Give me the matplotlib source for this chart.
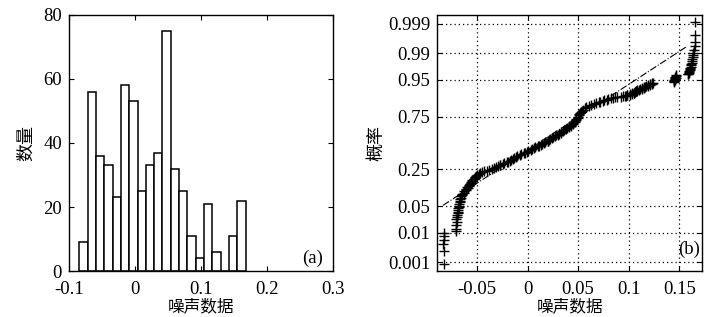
import matplotlib
matplotlib.use("Agg")
import matplotlib.pyplot as plt
import numpy as np
from statistics import NormalDist

plt.rcParams['font.family'] = ['Liberation Serif', 'DejaVu Serif']
plt.rcParams['axes.unicode_minus'] = False

# ---------------- (a) histogram ----------------
bin_centers = [-0.0781, -0.0655, -0.0529, -0.0403, -0.0277, -0.0151, -0.0025,
               0.0101, 0.0227, 0.0353, 0.0479, 0.0605, 0.0731, 0.0857,
               0.0983, 0.1109, 0.1235, 0.1361, 0.1487, 0.1613]
bin_counts = [9, 56, 36, 33, 23, 58, 53, 25, 33, 37, 75, 32, 25, 11, 4, 21, 6, 0, 11, 22]
bin_width = 0.0126
hist_xticks = [-0.1, 0, 0.1, 0.2, 0.3]
hist_xticklabels = ['-0.1', '0', '0.1', '0.2', '0.3']
hist_yticks = [0, 20, 40, 60, 80]

# ---------------- (b) normal probability plot ----------------
n_samples = 570
# sorted sample value read at a given rank
ranks = [1, 2, 3, 4, 5, 6, 7, 8, 10, 12, 14, 16, 18, 20, 22, 24, 26, 28, 30,
         33, 36, 39, 42, 45, 48, 51, 54, 57, 60, 63, 66, 69, 72, 75, 78, 81,
         84, 87, 90, 93, 96, 99, 102, 105, 108, 112, 116, 120, 124, 128, 132,
         136, 140, 144, 148, 152, 156, 160, 164, 168, 172, 176, 180, 185, 190,
         195, 200, 205, 210, 215, 220, 225, 230, 235, 240, 245, 250, 255, 260,
         265, 270, 275, 280, 285, 290, 295, 300, 305, 310, 315, 320, 325, 330,
         335, 340, 345, 350, 355, 360, 365, 370, 375, 380, 385, 390, 395, 400,
         405, 410, 415, 420, 425, 430, 435, 440, 445, 450, 455, 460, 465, 470,
         474, 478, 481, 484, 487, 490, 492, 494, 496, 498, 500, 502, 503, 504,
         505, 506, 507, 508, 509, 510, 511, 512, 513, 514, 515, 516, 517, 518,
         519, 520, 521, 522, 523, 524, 525, 526, 527, 528, 529, 530, 531, 532,
         533, 534, 535, 536, 537, 538, 539, 540, 541, 542, 543, 544, 545, 546,
         547, 548, 549, 550, 551, 552, 553, 554, 555, 556, 557, 558, 559, 560,
         561, 562, 563, 564, 565, 566, 567, 568, 569, 570]
values = [-0.0829, -0.0830, -0.0831, -0.0829, -0.0830, -0.0830, -0.0706, -0.0703,
          -0.0710, -0.0702, -0.0707, -0.0699, -0.0698, -0.0692, -0.0691, -0.0686,
          -0.0685, -0.0679, -0.0680, -0.0673, -0.0672, -0.0666, -0.0665, -0.0657,
          -0.0656, -0.0646, -0.0643, -0.0629, -0.0627, -0.0610, -0.0605, -0.0593,
          -0.0594, -0.0582, -0.0583, -0.0572, -0.0573, -0.0562, -0.0561, -0.0549,
          -0.0546, -0.0532, -0.0531, -0.0518, -0.0518, -0.0505, -0.0495, -0.0475,
          -0.0469, -0.0447, -0.0428, -0.0397, -0.0381, -0.0349, -0.0333, -0.0309,
          -0.0293, -0.0277, -0.0271, -0.0247, -0.0231, -0.0202, -0.0193, -0.0172,
          -0.0163, -0.0142, -0.0133, -0.0115, -0.0101, -0.0079, -0.0063, -0.0039,
          -0.0028, -0.0005, 0.0007, 0.0033, 0.0043, 0.0065, 0.0077, 0.0100,
          0.0112, 0.0134, 0.0145, 0.0166, 0.0177, 0.0200, 0.0202, 0.0215,
          0.0225, 0.0243, 0.0252, 0.0269, 0.0277, 0.0301, 0.0308, 0.0328,
          0.0333, 0.0353, 0.0362, 0.0381, 0.0390, 0.0406, 0.0410, 0.0428,
          0.0432, 0.0449, 0.0452, 0.0465, 0.0467, 0.0481, 0.0483, 0.0496,
          0.0497, 0.0510, 0.0509, 0.0523, 0.0527, 0.0543, 0.0552, 0.0571,
          0.0582, 0.0608, 0.0627, 0.0655, 0.0672, 0.0703, 0.0721, 0.0748,
          0.0757, 0.0785, 0.0797, 0.0828, 0.0845, 0.0863, 0.0887, 0.0928,
          0.0947, 0.0965, 0.0972, 0.0983, 0.0987, 0.1008, 0.1017, 0.1033,
          0.1037, 0.1051, 0.1055, 0.1065, 0.1065, 0.1075, 0.1075, 0.1085,
          0.1085, 0.1103, 0.1107, 0.1128, 0.1132, 0.1148, 0.1149, 0.1163,
          0.1169, 0.1188, 0.1192, 0.1208, 0.1212, 0.1231, 0.1229, 0.1239,
          0.1445, 0.1450, 0.1447, 0.1455, 0.1452, 0.1460, 0.1457, 0.1465,
          0.1462, 0.1470, 0.1468, 0.1585, 0.1590, 0.1595, 0.1600, 0.1598,
          0.1605, 0.1610, 0.1608, 0.1615, 0.1620, 0.1618, 0.1625, 0.1628,
          0.1630, 0.1632, 0.1635, 0.1638, 0.1650, 0.1652, 0.1655, 0.1655, 0.1658]
ref_x = [-0.0835, 0.158]
ref_p = [0.053, 0.994]
prob_ticks = [0.001, 0.01, 0.05, 0.25, 0.75, 0.95, 0.99, 0.999]
prob_ticklabels = ['0.001', '0.01', '0.05', '0.25', '0.75', '0.95', '0.99', '0.999']
norm_xticks = [-0.05, 0, 0.05, 0.1, 0.15]
norm_xticklabels = ['-0.05', '0', '0.05', '0.1', '0.15']

cjk = ['Noto Sans CJK SC', 'DejaVu Sans']
tick_fs = 13.5
nd = NormalDist()


def style_axes(ax):
    ax.tick_params(direction='in', top=True, right=True, length=3.5, width=0.8,
                   labelsize=tick_fs, pad=5)
    ax.tick_params(axis='x', pad=7)
    for s in ax.spines.values():
        s.set_linewidth(1.0)


fig = plt.figure(figsize=(7.21, 3.17), dpi=100)
ax1 = fig.add_axes([0.0957, 0.1451, 0.3662, 0.8076])
ax2 = fig.add_axes([0.6061, 0.1451, 0.3676, 0.8076])

# (a)
ax1.bar(bin_centers, bin_counts, width=bin_width, color='white',
        edgecolor='black', linewidth=1.1)
ax1.set_xlim(-0.1, 0.3)
ax1.set_ylim(0, 80)
ax1.set_xticks(hist_xticks, hist_xticklabels)
ax1.set_yticks(hist_yticks, [str(v) for v in hist_yticks])
style_axes(ax1)
ax1.set_xlabel('噪声数据', family=cjk, fontsize=12, labelpad=0)
ax1.set_ylabel('数量', family=cjk, fontsize=13, labelpad=6)
ax1.text(0.924, 0.051, '(a)', transform=ax1.transAxes, fontsize=tick_fs,
         ha='center', va='center')

# (b)
probs = [(r - 0.5) / n_samples for r in ranks]
z = [nd.inv_cdf(p) for p in probs]
z_ref = [nd.inv_cdf(p) for p in ref_p]
z_ticks = [nd.inv_cdf(p) for p in prob_ticks]

ax2.set_axisbelow(True)
ax2.grid(True, color='black', linestyle=(0, (1, 2.4)), linewidth=0.9)
ax2.plot(ref_x, z_ref, color='black', linestyle='-.', linewidth=0.8)
ax2.plot(values, z, linestyle='none', marker='+', color='black',
         markersize=7.5, markeredgewidth=1.0)
ax2.set_xlim(-0.0895, 0.1725)
ax2.set_ylim(-3.32, 3.32)
ax2.set_xticks(norm_xticks, norm_xticklabels)
ax2.set_yticks(z_ticks, prob_ticklabels)
style_axes(ax2)
ax2.set_xlabel('噪声数据', family=cjk, fontsize=12, labelpad=0)
ax2.set_ylabel('概率', family=cjk, fontsize=13, labelpad=2)
ax2.text(0.951, 0.086, '(b)', transform=ax2.transAxes, fontsize=tick_fs,
         ha='center', va='center')

fig.savefig('out.png', dpi=100)
